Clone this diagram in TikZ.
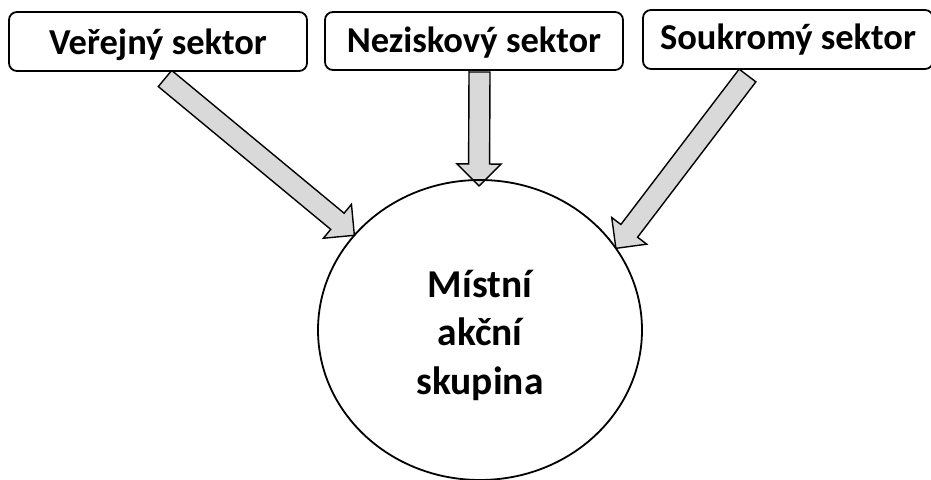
\documentclass[tikz,border=0pt]{standalone}
\usepackage{fontspec}
\setmainfont{Carlito}
\usetikzlibrary{calc,shapes.geometric}
\pgfdeclarelayer{background}
\pgfsetlayers{background,main}
\tikzset{
  sectorbox/.style={draw=black, line width=1.8pt, rounded corners=8pt, fill=white,
    inner sep=0pt, outer sep=0pt, minimum height=59pt, minimum width=298pt,
    font=\fontsize{36.5}{42}\selectfont\bfseries, text height=24pt, text depth=0pt},
  lagnode/.style={draw=black, line width=1.8pt, ellipse, inner sep=0pt, outer sep=0pt,
    minimum width=324pt, minimum height=300pt, align=center,
    font=\fontsize{39.5}{48.5}\selectfont\bfseries},
  blockarrow/.style={draw=black, line width=1.4pt, fill=black!15, line join=miter}
}
\newcommand\blockarrow[2]{%
  \coordinate (hb) at ($(#2)!22pt!(#1)$);
  \draw[blockarrow] ($(#1)!10.5pt!90:(#2)$) -- ($(hb)!10.5pt!90:(#2)$)
    -- ($(hb)!22pt!90:(#2)$) -- (#2) -- ($(hb)!22pt!-90:(#2)$)
    -- ($(hb)!10.5pt!-90:(#2)$) -- ($(#1)!10.5pt!-90:(#2)$) -- cycle;
}
\begin{document}
\begin{tikzpicture}[x=1pt,y=1pt]
\useasboundingbox (0,0) rectangle (931,479);
\node[sectorbox] (b1) at (158,437.5) {\raisebox{-1.5pt}{Veřejný sektor}};
\node[sectorbox, minimum height=58pt] (b2) at (474,438) {Neziskový sektor};
\node[sectorbox, minimum width=290pt] (b3) at (788,439.5) {\raisebox{2pt}{Soukromý sektor}};
\node[lagnode] (c) at (480,149) {\rule{0pt}{38pt}Místní\\akční\\skupina};
\coordinate (t1) at ($(b1.south)+(7,-7.5)$);
\coordinate (t2) at ($(b2.south)+(5.5,-2)$);
\coordinate (t3) at ($(b3.south)+(-40.5,-6.5)$);
\coordinate (p1) at (c.143.4);
\coordinate (p2) at ($(c.north)+(-1,-6)$);
\coordinate (p3) at (c.31.6);
\begin{pgfonlayer}{background}
\blockarrow{t1}{p1}
\blockarrow{t2}{p2}
\blockarrow{t3}{p3}
\end{pgfonlayer}
\end{tikzpicture}
\end{document}
